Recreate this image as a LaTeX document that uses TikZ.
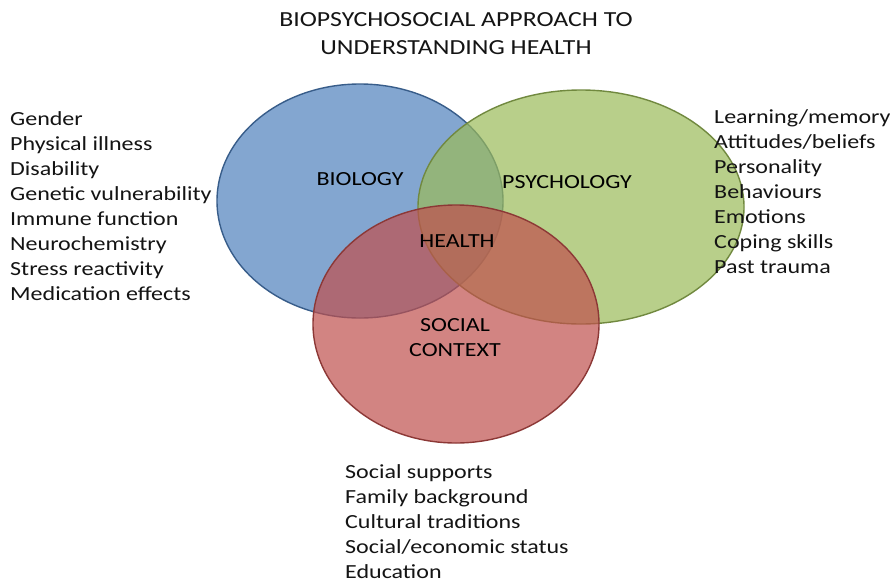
\documentclass[tikz,border=0pt]{standalone}
\usepackage{fontspec}
\setmainfont{Carlito}[FakeStretch=1.2]
\usepackage{tikz}
\usetikzlibrary{positioning}
\definecolor{bioblue}{RGB}{79,129,189}
\definecolor{bioline}{RGB}{56,93,138}
\definecolor{psygreen}{RGB}{155,187,89}
\definecolor{psyline}{RGB}{113,137,63}
\definecolor{socred}{RGB}{192,80,77}
\definecolor{socline}{RGB}{140,56,54}
\tikzset{
  item/.style = {anchor=base west, inner sep=0pt, text=black!92,
    font=\fontsize{20}{25}\selectfont},
  setlabel/.style = {inner sep=0pt, align=center, text=black,
    font=\fontsize{20}{25}\selectfont},
  venn/.style = {fill opacity=0.7, line width=1.4pt}
}

\begin{document}
\begin{tikzpicture}[x=1pt, y=-1pt]
\fill[white] (0,0) rectangle (890,584);
\useasboundingbox (0,0) rectangle (890,584);

% the three circles
\draw[venn, fill=bioblue, draw=bioline] (360,201) ellipse [x radius=143, y radius=117];
\draw[venn, fill=psygreen, draw=psyline] (581,207) ellipse [x radius=163, y radius=117];
\draw[venn, fill=socred, draw=socline] (456,324) ellipse [x radius=143, y radius=119];

\node [setlabel, text=black!92, font=\fontsize{21.5}{28}\selectfont] (title) at (456,34)
  {BIOPSYCHOSOCIAL APPROACH TO\\UNDERSTANDING HEALTH};

\node [setlabel] (biology) at (360,179) {BIOLOGY};
\node [setlabel] (psychology) at (567,182) {PSYCHOLOGY};
\node [setlabel] (health) at (457,241) {HEALTH};
\node [setlabel] (social) at (455,337.5) {SOCIAL\\CONTEXT};

% factor lists
\foreach \t [count=\i] in {Gender, Physical illness, Disability,
    Genetic vulnerability, Immune function, Neurochemistry,
    Stress reactivity, Medication effects}
  \node [item] (bio\i) at (10,100+25*\i) {\t};

\foreach \t [count=\i] in {Learning/memory, Attitudes/beliefs,
    Personality, Behaviours, Emotions, Coping skills, Past trauma}
  \node [item] (psy\i) at (714,98.5+25*\i) {\t};

\foreach \t [count=\i] in {Social supports, Family background,
    Cultural traditions, Social/economic status, Education}
  \node [item] (soc\i) at (345,453.5+25*\i) {\t};
\end{tikzpicture}
\end{document}
